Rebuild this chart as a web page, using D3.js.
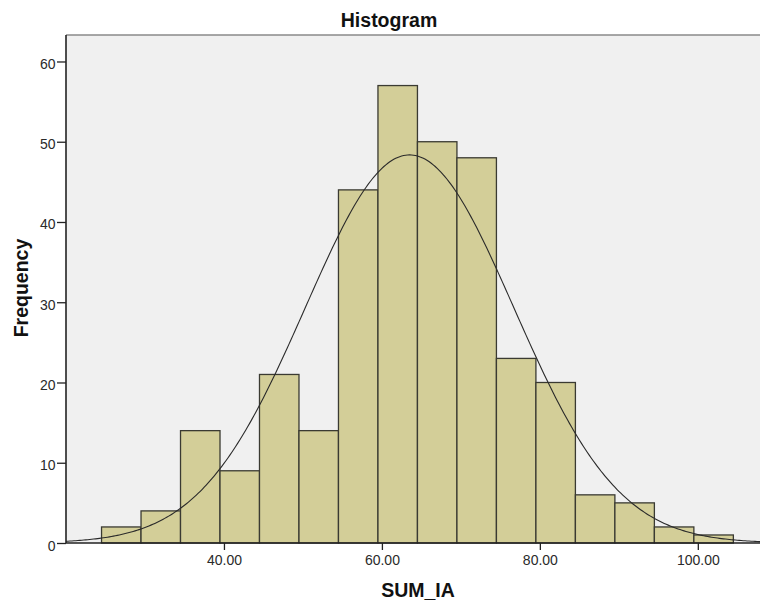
<!DOCTYPE html>
<html>
<head>
<meta charset="utf-8">
<script src="https://cdn.jsdelivr.net/npm/d3@7"></script>
<style>
  body { margin: 0; background: #fff; }
  svg { display: block; font-family: "Liberation Sans", Arial, sans-serif; }
</style>
</head>
<body>
<script>
// histogram bins (lower edge), counts
const binStart = [24.5, 29.5, 34.5, 39.5, 44.5, 49.5, 54.5, 59.5, 64.5, 69.5, 74.5, 79.5, 84.5, 89.5, 94.5, 99.5]
const counts = [2, 4, 14, 9, 21, 14, 44, 57, 50, 48, 23, 20, 6, 5, 2, 1]
const binWidth = 5
const xTicks = [40, 60, 80, 100]
const yTicks = [0, 10, 20, 30, 40, 50, 60]
// normal curve parameters
const mean = 63.5
const sd = 13.2
const n = 320

const width = 760, height = 600
const plotLeft = 66, plotTop = 35, plotRight = 761, plotBottom = 543

let svg = d3.select("body").append("svg")
    .attr("width", width).attr("height", height)

let x = d3.scaleLinear().domain([20, 108]).range([plotLeft, plotRight])
let y = d3.scaleLinear().domain([0, 63.3]).range([plotBottom, plotTop])

// plot background
svg.append("rect")
    .attr("x", plotLeft).attr("y", plotTop)
    .attr("width", plotRight - plotLeft).attr("height", plotBottom - plotTop)
    .attr("fill", "#f0f0f0")

svg.append("line")
    .attr("x1", plotLeft).attr("x2", width).attr("y1", plotTop).attr("y2", plotTop)
    .attr("stroke", "#8a8a8a").attr("stroke-width", 1.6)

// bars
svg.append("g").selectAll("rect")
    .data(counts).enter()
    .append("rect")
        .attr("x", (d, i) => x(binStart[i]))
        .attr("y", d => y(d))
        .attr("width", (d, i) => x(binStart[i] + binWidth) - x(binStart[i]))
        .attr("height", d => y(0) - y(d))
        .attr("fill", "#d3ce98")
        .attr("stroke", "#3a3a32")
        .attr("stroke-width", 1.3)

// normal curve
let curveX = d3.range(20, 108.01, 0.25)
let density = v => n * binWidth / (sd * Math.sqrt(2 * Math.PI)) * Math.exp(-0.5 * ((v - mean) / sd) ** 2)
svg.append("path")
    .datum(curveX)
    .attr("d", d3.line().x(d => x(d)).y(d => y(density(d))))
    .attr("fill", "none")
    .attr("stroke", "#2a2a2a")
    .attr("stroke-width", 1.1)

// axes
let yAxis = d3.axisLeft(y).tickValues(yTicks).tickSize(9).tickSizeOuter(0)
let yg = svg.append("g").attr("transform", `translate(${plotLeft},0)`).call(yAxis)
yg.select(".domain").attr("stroke", "#222").attr("stroke-width", 1.6)
    .attr("d", `M0,${plotTop}V${plotBottom}`)
yg.selectAll(".tick line").attr("stroke", "#222").attr("stroke-width", 1.3)
yg.selectAll(".tick text").attr("font-size", 14).attr("fill", "#2a2a2a")
    .attr("x", -10.5).attr("dy", "0.5em")
    .style("font-family", "'Liberation Sans', Arial, sans-serif")

let xAxis = d3.axisBottom(x).tickValues(xTicks).tickFormat(d3.format(".2f")).tickSize(7).tickSizeOuter(0)
let xg = svg.append("g").attr("transform", `translate(0,${plotBottom})`).call(xAxis)
xg.select(".domain").attr("stroke", "#222").attr("stroke-width", 1.6)
    .attr("d", `M${plotLeft},0H${width}`)
xg.selectAll(".tick line").attr("stroke", "#222").attr("stroke-width", 1.3)
xg.selectAll(".tick text").attr("font-size", 14).attr("fill", "#2a2a2a")
    .attr("y", 22).attr("dy", null)
    .style("font-family", "'Liberation Sans', Arial, sans-serif")

// titles
svg.append("text")
    .attr("x", 389).attr("y", 27)
    .attr("text-anchor", "middle")
    .attr("font-size", 19.5).attr("font-weight", "bold").attr("fill", "#111")
    .text("Histogram")

svg.append("text")
    .attr("x", 418).attr("y", 597)
    .attr("text-anchor", "middle")
    .attr("font-size", 19.5).attr("font-weight", "bold").attr("fill", "#111")
    .text("SUM_IA")

svg.append("text")
    .attr("transform", "translate(27.5,288) rotate(-90)")
    .attr("text-anchor", "middle")
    .attr("font-size", 19.5).attr("font-weight", "bold").attr("fill", "#111")
    .text("Frequency")
</script>
</body>
</html>
